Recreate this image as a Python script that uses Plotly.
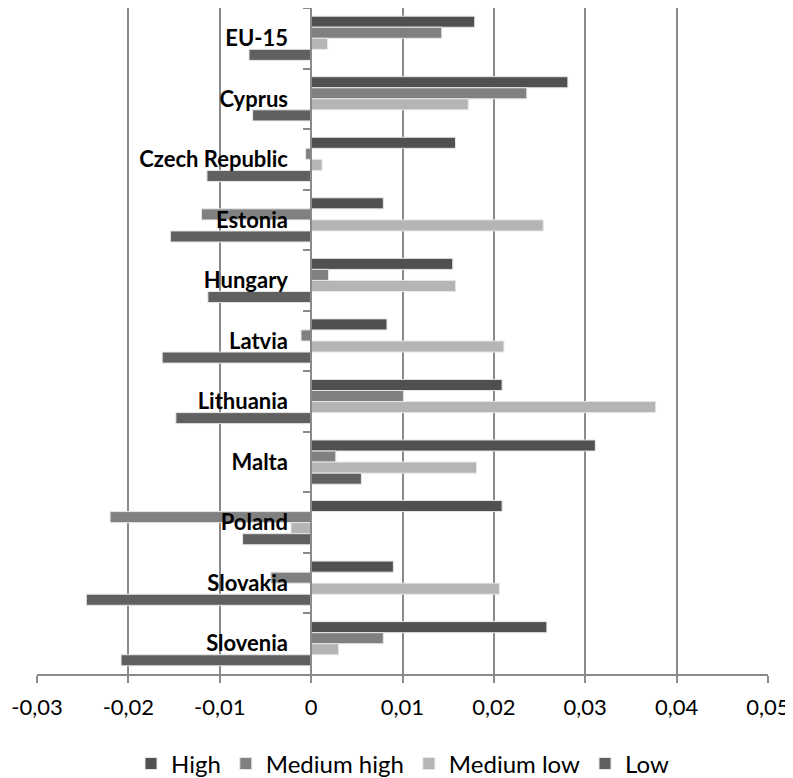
import plotly.graph_objects as go

countries = ["EU-15", "Cyprus", "Czech Republic", "Estonia", "Hungary", "Latvia",
             "Lithuania", "Malta", "Poland", "Slovakia", "Slovenia"]
series_names = ["High", "Medium high", "Medium low", "Low"]
high = [0.0179, 0.0281, 0.0158, 0.0079, 0.0155, 0.0083, 0.0209, 0.0311, 0.0209, 0.0090, 0.0258]
medium_high = [0.0143, 0.0236, -0.0006, -0.0120, 0.0019, -0.0011, 0.0101, 0.0027, -0.0220, -0.0044, 0.0079]
medium_low = [0.0018, 0.0172, 0.0012, 0.0254, 0.0158, 0.0211, 0.0377, 0.0181, -0.0022, 0.0206, 0.0030]
low = [-0.0068, -0.0064, -0.0114, -0.0154, -0.0113, -0.0163, -0.0148, 0.0055, -0.0075, -0.0246, -0.0208]
x_tickvals = [-0.03, -0.02, -0.01, 0, 0.01, 0.02, 0.03, 0.04, 0.05]
x_ticktext = ["-0,03", "-0,02", "-0,01", "0", "0,01", "0,02", "0,03", "0,04", "0,05"]
colors = ["#505050", "#808080", "#b5b5b5", "#606060"]

fig = go.Figure()
for name, vals, col in zip(series_names, [high, medium_high, medium_low, low], colors):
    fig.add_trace(go.Bar(
        y=countries, x=vals, name=name, orientation="h",
        marker=dict(color=col, line=dict(color="#e6e6e6", width=1)),
    ))

xmin, xmax = -0.03, 0.05
# the page body adds an 8px offset, so the figure is 8px smaller and shifted
fig.update_layout(
    width=785, height=770,
    margin=dict(l=29, r=25, t=0, b=104, autoexpand=False),
    barmode="group", bargap=0.27, bargroupgap=0,
    paper_bgcolor="white", plot_bgcolor="white",
    font=dict(family="Lato, 'Open Sans', sans-serif", color="black", size=20),
    xaxis=dict(range=[xmin, xmax], tickvals=x_tickvals, ticktext=x_ticktext,
               showgrid=True, gridcolor="#8a8a8a", gridwidth=1.5,
               zeroline=False, showline=True, linecolor="#8a8a8a", linewidth=1.5,
               ticks="outside", ticklen=7, tickcolor="#8a8a8a", tickwidth=1.5,
               tickfont=dict(size=22), ticklabelstandoff=6, automargin=False),
    yaxis=dict(autorange="reversed", anchor="free",
               position=(0 - xmin) / (xmax - xmin),
               showline=True, linecolor="#8a8a8a", linewidth=1.5,
               ticks="outside", ticklen=7, tickcolor="#8a8a8a", tickwidth=1.5,
               tickson="boundaries", showgrid=False, automargin=False,
               tickfont=dict(size=22, family="Lato, 'Open Sans', sans-serif", weight="bold"),
               ticklabelstandoff=18),
    legend=dict(orientation="h", x=0.5, xanchor="center", y=-0.135, yanchor="middle",
                font=dict(size=24), traceorder="normal", itemwidth=30),
)
fig.write_html("out.html")
